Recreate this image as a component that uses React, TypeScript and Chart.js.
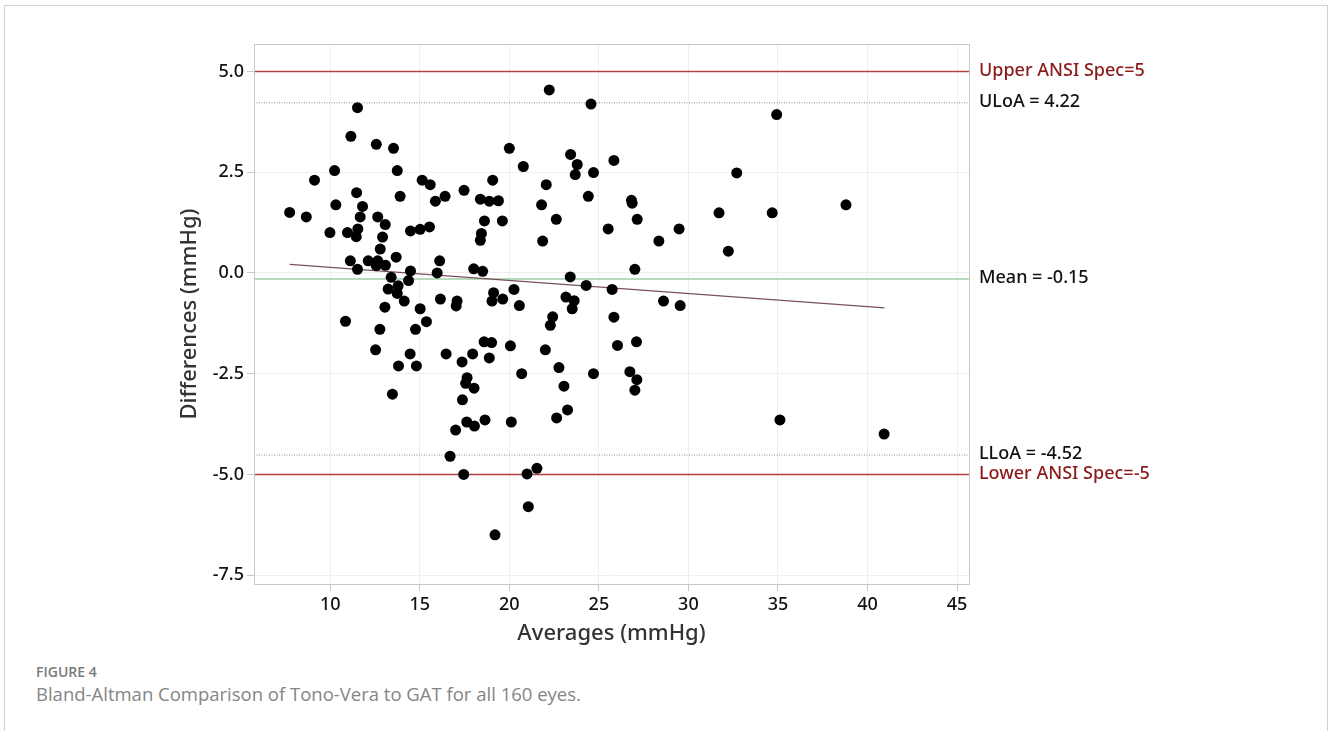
import React, { useEffect, useRef } from "react";
import { Chart, registerables } from "chart.js";

Chart.register(...registerables);

// Bland-Altman data: average of the two methods (mmHg) and their difference (mmHg)
const averages = [
  11.52, 11.15, 12.57, 13.53, 13.74, 10.24, 9.12, 11.47, 13.9, 15.13,
  15.58, 15.87, 16.41, 17.47, 18.38, 18.88, 19.07, 7.73, 8.66, 10.31,
  11.8, 11.67, 12.65, 13.07, 11.54, 11.45, 10.96, 9.98, 12.92, 12.79,
  13.68, 14.48, 15.02, 15.54, 18.61, 18.44, 18.38, 11.12, 11.52, 12.12,
  12.65, 12.57, 13.08, 16.11, 15.97, 14.48, 14.37, 13.4, 13.79, 13.23,
  13.74, 14.13, 13.05, 15.02, 16.15, 17.08, 17.03, 18.01, 18.51, 19.12,
  19.03, 10.85, 15.37, 12.77, 14.76, 12.53, 14.46, 13.81, 14.81, 16.47,
  17.36, 17.95, 18.59, 19.01, 18.88, 13.47, 17.64, 17.56, 18.03, 17.38,
  17.62, 18.05, 18.64, 17.0, 16.69, 17.45, 19.2, 22.23, 24.56, 20.0,
  20.78, 23.42, 23.79, 23.68, 24.7, 25.84, 22.06, 19.39, 21.8, 24.41,
  26.82, 26.86, 19.61, 22.62, 25.52, 27.14, 29.48, 28.35, 21.86, 27.01,
  23.4, 24.29, 25.74, 19.63, 20.26, 20.56, 23.16, 23.62, 23.51, 22.42,
  22.29, 25.84, 28.61, 29.54, 20.06, 22.01, 20.69, 22.77, 23.05, 24.7,
  26.04, 27.1, 26.73, 27.12, 27.01, 20.11, 22.64, 23.25, 21.54, 20.99,
  21.06, 34.93, 32.7, 31.71, 34.68, 38.8, 32.23, 35.11, 40.93,
];
const differences = [
  4.1, 3.39, 3.19, 3.09, 2.54, 2.54, 2.3, 1.99, 1.9, 2.3,
  2.19, 1.78, 1.9, 2.05, 1.83, 1.78, 2.3, 1.5, 1.39, 1.69,
  1.65, 1.39, 1.39, 1.2, 1.09, 0.9, 1.0, 1.0, 0.89, 0.59,
  0.39, 1.04, 1.08, 1.14, 1.29, 0.98, 0.81, 0.3, 0.09, 0.3,
  0.3, 0.18, 0.19, 0.3, 0.0, 0.05, -0.19, -0.11, -0.32, -0.4,
  -0.51, -0.7, -0.85, -0.89, -0.65, -0.7, -0.82, 0.1, 0.04, -0.49,
  -0.7, -1.2, -1.21, -1.4, -1.4, -1.91, -2.01, -2.31, -2.31, -2.01,
  -2.21, -2.01, -1.71, -1.73, -2.11, -3.01, -2.6, -2.74, -2.86, -3.15,
  -3.7, -3.8, -3.65, -3.9, -4.55, -5.0, -6.5, 4.54, 4.19, 3.09,
  2.64, 2.94, 2.69, 2.44, 2.49, 2.79, 2.19, 1.79, 1.69, 1.9,
  1.8, 1.73, 1.29, 1.33, 1.09, 1.33, 1.09, 0.79, 0.79, 0.09,
  -0.1, -0.31, -0.41, -0.65, -0.41, -0.81, -0.6, -0.69, -0.89, -1.09,
  -1.3, -1.1, -0.7, -0.81, -1.81, -1.91, -2.5, -2.35, -2.81, -2.5,
  -1.8, -1.71, -2.45, -2.65, -2.91, -3.7, -3.6, -3.4, -4.85, -4.99,
  -5.8, 3.93, 2.48, 1.49, 1.49, 1.69, 0.54, -3.65, -4.0,
];

// Reference lines
const meanDiff = -0.15;
const upperLoA = 4.22;
const lowerLoA = -4.52;
const upperSpec = 5;
const lowerSpec = -5;
const trendX = [7.73, 40.95];
const trendY = [0.21, -0.87];

// Axes
const xRange = [5.74, 45.67];
const yRange = [-7.72, 5.68];
const xTicks = [10, 15, 20, 25, 30, 35, 40, 45];
const yTicks = [-7.5, -5, -2.5, 0, 2.5, 5];

const sideLabels = [
  { text: "Upper ANSI Spec=5", value: upperSpec, color: "#8b1a1a" },
  { text: "ULoA = 4.22", value: upperLoA, color: "#111111" },
  { text: "Mean = -0.15", value: meanDiff, color: "#111111" },
  { text: "LLoA = -4.52", value: lowerLoA, color: "#111111" },
  { text: "Lower ANSI Spec=-5", value: lowerSpec, color: "#8b1a1a" },
];

const FONT = "'Noto Sans', 'Open Sans', sans-serif";

const hLine = (v: number) => [
  { x: xRange[0], y: v },
  { x: xRange[1], y: v },
];

const framePlugin = {
  id: "frameAndLabels",
  afterDraw(chart: any) {
    const { ctx, chartArea, scales } = chart;
    ctx.save();
    ctx.strokeStyle = "#c8c8c8";
    ctx.lineWidth = 1;
    ctx.strokeRect(
      Math.round(chartArea.left) + 0.5,
      Math.round(chartArea.top) + 0.5,
      Math.round(chartArea.right - chartArea.left),
      Math.round(chartArea.bottom - chartArea.top)
    );
    ctx.font = `500 18px ${FONT}`;
    ctx.textAlign = "left";
    ctx.textBaseline = "middle";
    sideLabels.forEach((l) => {
      ctx.fillStyle = l.color;
      ctx.fillText(l.text, chartArea.right + 10, scales.y.getPixelForValue(l.value) - 1);
    });
    ctx.restore();
  },
};

export default function App() {
  const ref = useRef<HTMLCanvasElement | null>(null);

  useEffect(() => {
    if (!ref.current) return;
    const chart = new Chart(ref.current, {
      type: "scatter",
      data: {
        datasets: [
          {
            label: "Differences",
            data: averages.map((a, i) => ({ x: a, y: differences[i] })),
            backgroundColor: "#000000",
            borderWidth: 0,
            pointRadius: 5.5,
            order: 0,
          },
          {
            label: "Trend",
            data: trendX.map((x, i) => ({ x, y: trendY[i] })),
            showLine: true,
            borderColor: "#7a4f5d",
            borderWidth: 1.2,
            pointRadius: 0,
            order: 1,
          },
          {
            label: "Upper spec",
            data: hLine(upperSpec),
            showLine: true,
            borderColor: "#b5403f",
            borderWidth: 1.5,
            pointRadius: 0,
            order: 2,
          },
          {
            label: "Lower spec",
            data: hLine(lowerSpec),
            showLine: true,
            borderColor: "#b5403f",
            borderWidth: 1.5,
            pointRadius: 0,
            order: 2,
          },
          {
            label: "ULoA",
            data: hLine(upperLoA),
            showLine: true,
            borderColor: "#8a8a8a",
            borderWidth: 1,
            borderDash: [1, 1.5],
            pointRadius: 0,
            order: 3,
          },
          {
            label: "LLoA",
            data: hLine(lowerLoA),
            showLine: true,
            borderColor: "#8a8a8a",
            borderWidth: 1,
            borderDash: [1, 1.5],
            pointRadius: 0,
            order: 3,
          },
          {
            label: "Mean",
            data: hLine(meanDiff),
            showLine: true,
            borderColor: "#9fcfa6",
            borderWidth: 1.5,
            pointRadius: 0,
            order: 3,
          },
        ],
      },
      options: {
        responsive: false,
        devicePixelRatio: 1,
        animation: false,
        layout: { padding: { left: 170, top: 44, right: 359, bottom: 10 } },
        plugins: {
          legend: { display: false },
          tooltip: { enabled: false },
        },
        scales: {
          x: {
            type: "linear",
            min: xRange[0],
            max: xRange[1],
            afterBuildTicks: (s: any) => {
              s.ticks = xTicks.map((v) => ({ value: v }));
            },
            afterFit: (s: any) => {
              s.height = 66;
            },
            grid: { color: "#efefef", tickColor: "#c8c8c8", tickLength: 7, lineWidth: 1 },
            border: { display: false },
            ticks: {
              color: "#111111",
              font: { size: 18, family: FONT, weight: 500 },
              padding: 3,
              maxRotation: 0,
              callback: (v: any) => String(v),
            },
            title: {
              display: true,
              text: "Averages (mmHg)",
              color: "#333333",
              font: { size: 22, family: FONT, weight: 500 },
              padding: { top: 0, bottom: 3 },
            },
          },
          y: {
            type: "linear",
            min: yRange[0],
            max: yRange[1],
            afterBuildTicks: (s: any) => {
              s.ticks = yTicks.map((v) => ({ value: v }));
            },
            afterFit: (s: any) => {
              s.width = 84;
            },
            grid: { color: "#efefef", tickColor: "#c8c8c8", tickLength: 7, lineWidth: 1 },
            border: { display: false },
            ticks: {
              color: "#111111",
              font: { size: 18, family: FONT, weight: 500 },
              padding: 3,
              callback: (v: any) => Number(v).toFixed(1),
            },
            title: {
              display: true,
              text: "Differences (mmHg)",
              color: "#333333",
              font: { size: 22, family: FONT, weight: 500 },
              padding: { top: 7, bottom: 0 },
            },
          },
        },
      },
      plugins: [framePlugin],
    });
    return () => chart.destroy();
  }, []);

  return (
    <div
      style={{
        position: "fixed",
        left: 0,
        top: 0,
        width: 1328,
        height: 731,
        background: "#ffffff",
        overflow: "hidden",
      }}
    >
      <div
        style={{
          position: "absolute",
          left: 4,
          top: 5,
          width: 1324,
          height: 800,
          border: "1px solid #d0d0d0",
          boxSizing: "border-box",
        }}
      />
      <canvas
        ref={ref}
        width={1328}
        height={660}
        style={{ position: "absolute", left: 0, top: 0, display: "block" }}
      />
      <div
        style={{
          position: "absolute",
          left: 36,
          top: 663,
          fontFamily: "'Open Sans', sans-serif",
          fontSize: 14,
          fontWeight: 600,
          color: "#7a7a7a",
          lineHeight: "18px",
        }}
      >
        FIGURE 4
      </div>
      <div
        style={{
          position: "absolute",
          left: 36,
          top: 682,
          fontFamily: "'Open Sans', sans-serif",
          fontSize: 18.5,
          fontWeight: 400,
          color: "#858585",
          lineHeight: "24px",
          whiteSpace: "nowrap",
        }}
      >
        Bland-Altman Comparison of Tono-Vera to GAT for all 160 eyes.
      </div>
    </div>
  );
}
